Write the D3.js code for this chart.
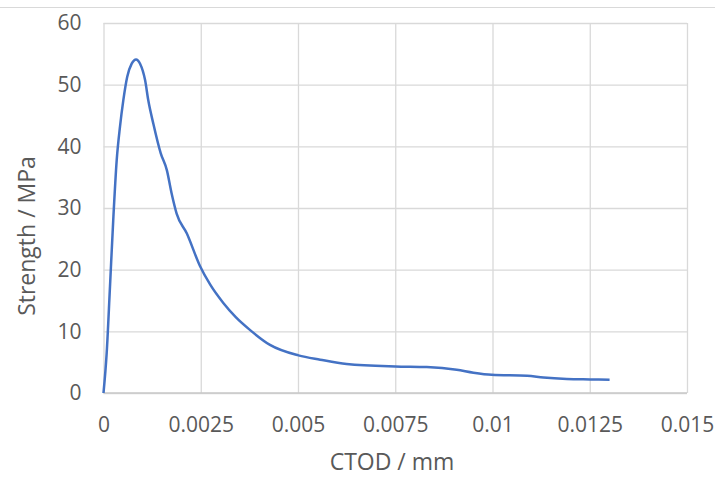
<!DOCTYPE html>
<html>
<head>
<meta charset="utf-8">
<script src="https://cdn.jsdelivr.net/npm/d3@7"></script>
<style>
  body { margin: 0; background: #fff; }
  .chart { width: 715px; height: 477px; }
  text { font-family: "Open Sans", sans-serif; fill: #595959; }
</style>
</head>
<body>
<div class="chart"></div>
<script>
// CTOD values (mm)
let ctod = [0, 0.000082, 0.000167, 0.00025, 0.00034, 0.000424, 0.00051, 0.00061, 0.000725, 0.000836,
    0.00094, 0.00107, 0.00115, 0.00128, 0.00147, 0.00163, 0.00175, 0.00188, 0.00214, 0.00248,
    0.00274, 0.00308, 0.0034, 0.00377, 0.00428, 0.00501, 0.00557, 0.00625, 0.0075,
    0.00831, 0.00908, 0.00951, 0.00998, 0.01089, 0.01131, 0.01191, 0.01251, 0.01301];

// strength values (MPa)
let strength = [0, 6.5, 17.3, 28, 37.8, 43.2, 47.5, 51.3, 53.4, 54.1,
    53.4, 50.7, 47.5, 43.7, 38.9, 36.1, 32.4, 29.1, 25.9, 20.6,
    17.6, 14.6, 12.3, 10.2, 7.8, 6.1, 5.4, 4.7, 4.3,
    4.2, 3.77, 3.3, 2.96, 2.8, 2.5, 2.27, 2.2, 2.15];

let xTicks = [0, 0.0025, 0.005, 0.0075, 0.01, 0.0125, 0.015];
let xTickLabels = ["0", "0.0025", "0.005", "0.0075", "0.01", "0.0125", "0.015"];
let yTicks = [0, 10, 20, 30, 40, 50, 60];

let chart = {};

chart.margin = { top: 23, right: 28, bottom: 84, left: 103.5 };
chart.width = 715 - chart.margin.left - chart.margin.right;
chart.height = 477 - chart.margin.top - chart.margin.bottom;

chart.svg = d3.select(".chart").append("svg")
    .attr("width", 715)
    .attr("height", 477);

// thin frame line at the top of the picture
chart.svg.append("line")
    .attr("x1", 0).attr("x2", 715)
    .attr("y1", 7.5).attr("y2", 7.5)
    .attr("stroke", "#d9d9d9")
    .attr("stroke-width", 1);

chart.plot = chart.svg.append("g")
    .attr("transform", `translate(${chart.margin.left},${chart.margin.top})`);

chart.xScale = d3.scaleLinear()
    .domain([0, 0.015])
    .range([0, chart.width]);

chart.yScale = d3.scaleLinear()
    .domain([0, 60])
    .range([chart.height, 0]);

// gridlines
chart.plot.append("g")
    .attr("class", "x-grid")
    .attr("transform", `translate(0,${chart.height})`)
    .call(d3.axisBottom(chart.xScale).tickValues(xTicks).tickSize(-chart.height).tickFormat(""))
    .call(g => g.select(".domain").remove())
    .call(g => g.selectAll("line").attr("stroke", "#d9d9d9").attr("stroke-width", 1.3));

chart.plot.append("g")
    .attr("class", "y-grid")
    .call(d3.axisLeft(chart.yScale).tickValues(yTicks).tickSize(-chart.width).tickFormat(""))
    .call(g => g.select(".domain").remove())
    .call(g => g.selectAll("line").attr("stroke", "#d9d9d9").attr("stroke-width", 1.3));

// bottom axis line
chart.plot.append("line")
    .attr("x1", 0).attr("x2", chart.width)
    .attr("y1", chart.height).attr("y2", chart.height)
    .attr("stroke", "#c9c9c9")
    .attr("stroke-width", 1.3);

// tick labels
chart.xAxis = chart.plot.append("g")
    .attr("transform", `translate(0,${chart.height})`)
    .call(d3.axisBottom(chart.xScale).tickValues(xTicks).tickSize(0)
        .tickFormat((d, i) => xTickLabels[i]))
    .call(g => g.select(".domain").remove());
chart.xAxis.selectAll("text")
    .attr("y", 39)
    .attr("dy", 0)
    .attr("font-size", 21)
    .attr("font-family", "'Open Sans', sans-serif")
    .attr("fill", "#595959");

chart.yAxis = chart.plot.append("g")
    .call(d3.axisLeft(chart.yScale).tickValues(yTicks).tickSize(0).tickPadding(22))
    .call(g => g.select(".domain").remove());
chart.yAxis.selectAll("text")
    .attr("font-size", 21)
    .attr("font-family", "'Open Sans', sans-serif")
    .attr("fill", "#595959");

// the curve
chart.line = d3.line()
    .x((d, i) => chart.xScale(ctod[i]))
    .y(d => chart.yScale(d))
    .curve(d3.curveMonotoneX);

chart.plot.append("path")
    .datum(strength)
    .attr("d", chart.line)
    .attr("fill", "none")
    .attr("stroke", "#4472c4")
    .attr("stroke-width", 2.5)
    .attr("stroke-linejoin", "round");

// axis titles
chart.svg.append("text")
    .attr("x", 392)
    .attr("y", 470)
    .attr("text-anchor", "middle")
    .attr("font-size", 23)
    .text("CTOD / mm");

chart.svg.append("text")
    .attr("transform", "translate(35,236) rotate(-90)")
    .attr("text-anchor", "middle")
    .attr("font-size", 23)
    .text("Strength / MPa");
</script>
</body>
</html>
